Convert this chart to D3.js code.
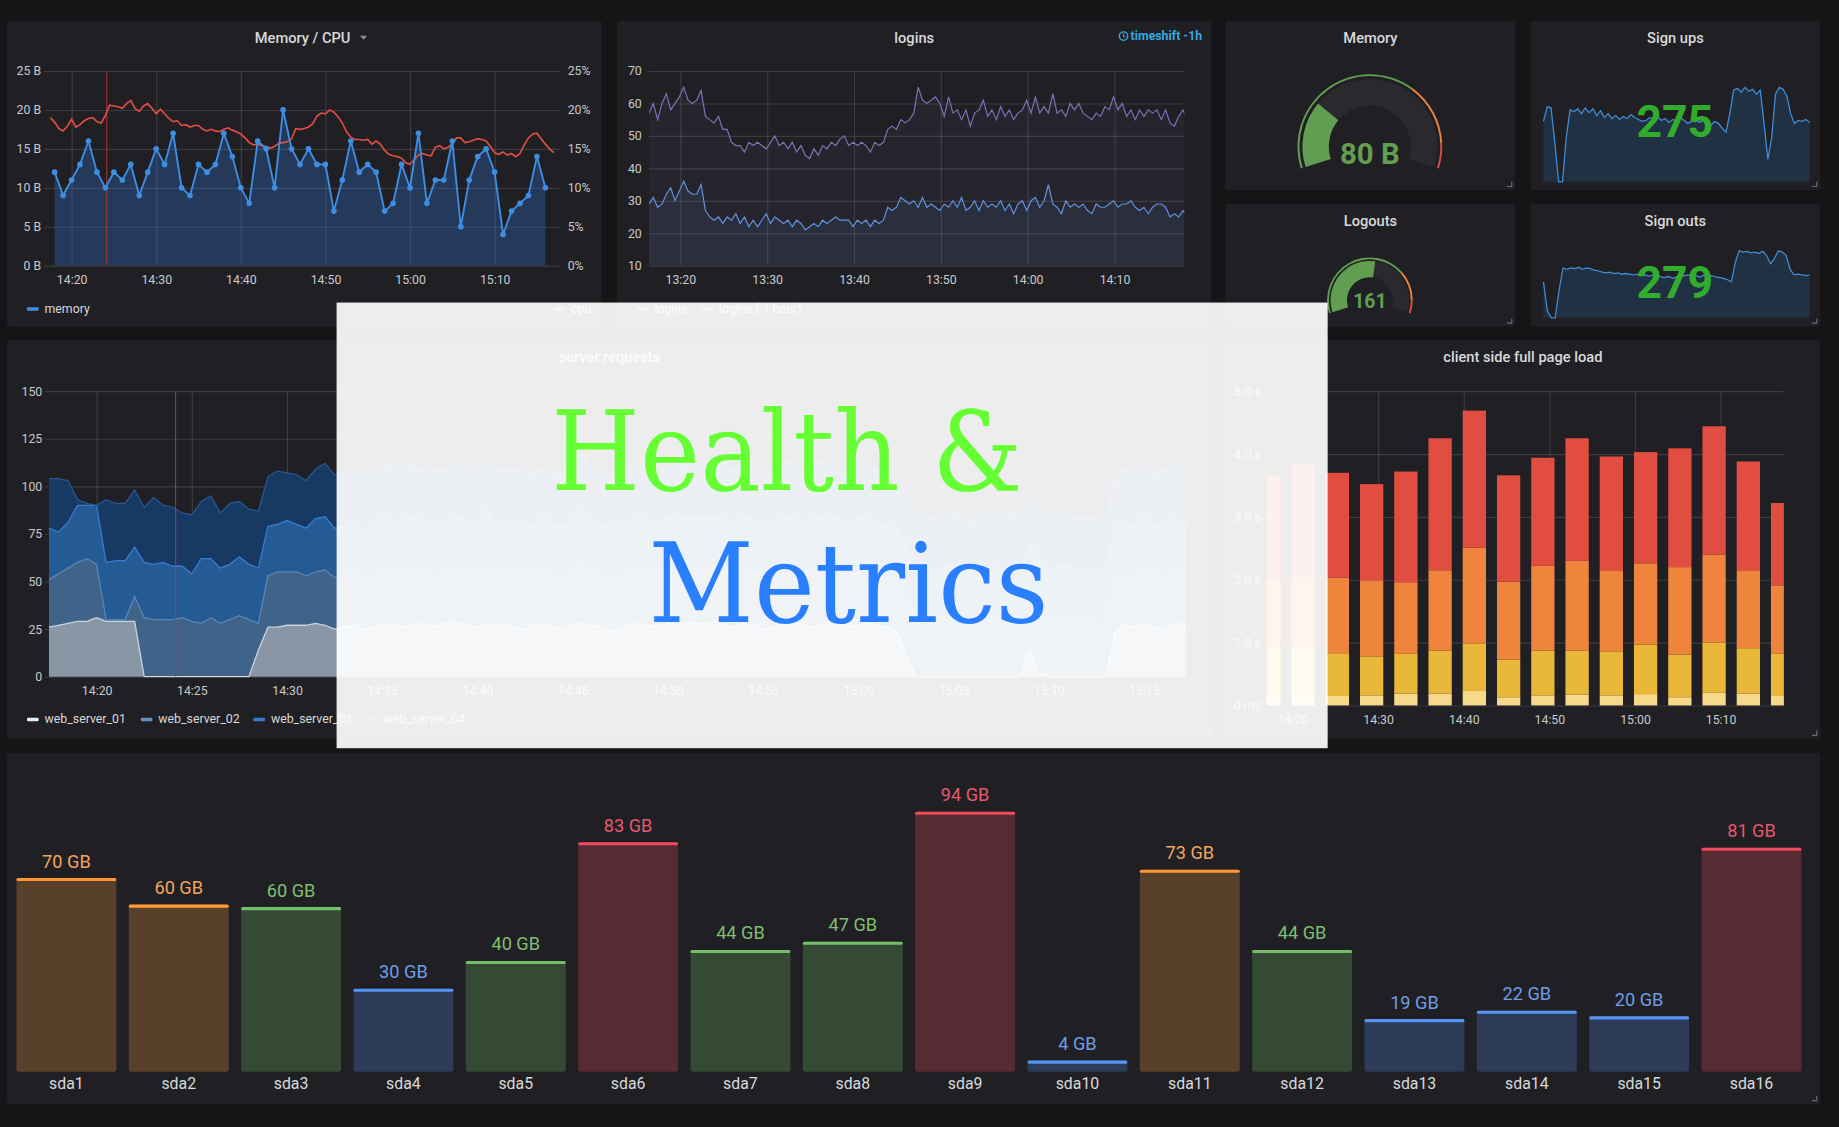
<!DOCTYPE html>
<html>
<head>
<meta charset="utf-8">
<title>Health &amp; Metrics</title>
<script src="https://cdn.jsdelivr.net/npm/d3@7/dist/d3.min.js"></script>
<style>
html,body{margin:0;padding:0;background:#151517;overflow:hidden;}
svg{display:block;}
</style>
</head>
<body>
<svg id="chart" width="1839" height="1127" viewBox="0 0 1568 961" preserveAspectRatio="none"></svg>
<script>
// ================= DATA =================
// Memory / CPU panel
const memoryStart = "14:18:00";
const memoryStepMin = 1;
const memoryValues = [12,9,11,13,16,12,10,12,11,13,
  9,12,15,13,17,10,9,13,12,13,
  17,14,10,8,16,15,10,20,15,13,
  15,13,13,7,11,16,12,13,12,7,
  8,13,10,17,8,11,11,16,5,11,
  14,15,12,4,7,8,9,14,10];
const cpuStart = "14:17:30";
const cpuStepMin = 0.5;
const cpuValues = [19,18.4,17.6,17.3,17.9,18.8,17.8,18.1,18.6,18.9,
  19,18.5,18.3,19.3,20.6,20.5,20.4,20.2,20.8,21.2,
  20.2,19.8,20.5,20.8,20.2,19.5,20.1,19.5,18.9,18.5,
  18.6,18,18.1,17.8,18,18,17.5,17.3,17.5,17.3,
  17.2,17.5,17.7,17.4,17.2,16.9,16.4,15.8,15.5,15.6,
  15.4,15.3,15.1,15.3,15.7,15.8,15.9,16.3,17.6,17.5,
  17.6,17.8,18.2,19.2,19.6,19.5,20,19.7,19.1,18.3,
  17.2,16.5,16.2,16.2,16.1,16.2,15.6,16,15.6,14.8,
  14.3,14.1,14,13.8,13.2,13,13.6,14.2,14.4,14.2,
  14.1,15.2,15.4,15,15.2,15.6,16.4,16.4,15.8,15.9,
  16.1,16.3,16.2,16,15.3,14.5,14.3,14.6,14.2,14.4,
  14,14.4,15.5,16.4,16.9,17,16.3,15.6,15,14.5];
const memoryTicksY = [0,5,10,15,20,25];
const annotationTime = "14:24:09";

// logins panel
const loginsStart = "13:16:24";
const loginsStepMin = 0.5;
const loginsHourAgoValues = [57,60,55,60,63,58,60,62,65,61,
  60,61,64,56,55,54,56,52,52,48,
  47,47,45,48,47,48,47,46,48,50,
  47,48,46,48,45,47,44,43,46,44,
  47,46,48,47,49,50,47,48,47,48,
  47,45,48,47,48,52,53,52,55,54,
  55,57,65,61,60,61,62,60,56,62,
  57,58,55,58,53,57,58,61,56,58,
  55,59,56,58,55,57,58,61,57,62,
  57,59,57,63,57,58,56,60,58,60,
  57,56,55,57,56,59,58,62,58,60,
  56,58,55,58,56,58,57,58,55,58,
  54,53,56,58,55];
const loginsValues = [29,31,28,29,32,34,30,33,36,33,
  32,32,35,27,25,24,25,23,25,24,
  26,23,25,22,24,22,24,26,23,25,
  24,23,24,22,24,23,21,22,23,22,
  24,23,24,25,24,24,24,22,24,23,
  24,22,24,23,24,28,27,28,31,30,
  29,30,28,31,28,29,28,27,29,28,
  30,28,31,27,28,30,27,30,28,29,
  28,30,27,29,26,29,30,27,30,31,
  28,30,35,29,28,26,30,28,29,28,
  29,27,26,29,28,28,29,30,28,29,
  29,30,28,27,28,26,28,29,29,28,
  25,26,25,27,25];
const loginsTicksY = [10,20,30,40,50,60,70];

// gauges
const gaugeTitles = ["Memory","Logouts"];
const gaugeValues = [80,161];
const gaugeUnits = [" B",""];
const gaugeMax = [300,300];
const gaugeThresholds = [[200,272],[218,275]];

// single stats with sparklines
const statTitles = ["Sign ups","Sign outs"];
const statValues = [275,279];
const signUpsSpark = [62,77,76,40,0,0,45,74,72,75,70,76,71,75,68,73,66,70,65,68,64,67,65,69,66,64,62,63,66,64,67,63,65,61,64,62,66,63,60,62,64,61,63,60,58,62,60,55,51,70,94,96,92,97,93,95,90,94,60,23,45,90,97,95,88,70,60,63,62,64,61];
const signOutsSpark = [52,10,0,0,40,72,70,72,71,73,70,72,71,69,68,66,65,66,64,65,63,64,63,62,63,61,62,60,62,61,59,58,60,57,59,60,61,62,60,61,59,62,60,61,59,58,57,55,52,80,97,95,96,94,95,93,96,90,78,86,97,95,90,70,62,63,62,61,62];

// server requests (stacked)
const serverStart = "14:17:30";
const serverStepMin = 0.5;
const serverSeriesNames = ["web_server_01","web_server_02","web_server_03","web_server_04"];
const webServer01 = [26,27,28,29,29,31,29,29,29,29,0,0,0,0,0,0,0,0,0,0,0,0,14,26,26,27,27,27,28,27,25,
  26,27,25,26,27,28,26,27,28,26,
  27,29,28,27,26,28,27,28,26,25,
  27,28,26,25,27,28,27,26,24,25,
  27,28,27,26,28,27,29,28,28,29,
  27,26,28,27,25,26,28,27,28,26,
  27,29,28,27,26,28,27,26,24,12,
  0,0,0,0,0,0,0,0,0,0,
  0,0,14,2,0,0,0,0,0,0,
  0,24,27,26,28,26,25,27,28,26];
const webServer02 = [25,27,29,31,33,28,1,1,1,13,31,30,30,30,31,29,28,31,28,30,32,30,14,27,29,28,28,26,27,29,27,
  27,28,26,27,29,28,27,30,28,27,
  26,28,29,27,28,30,27,26,28,29,
  27,28,26,27,29,31,28,27,26,28,
  29,27,28,30,29,27,28,26,27,29,
  28,27,30,28,27,26,28,29,27,28,
  30,27,28,26,29,28,27,28,26,30,
  31,29,28,30,29,31,28,30,29,30,
  31,29,28,30,29,31,30,29,30,28,
  27,28,26,27,29,28,27,28,26,27];
const webServer03 = [27,22,24,30,28,31,30,31,31,26,29,29,30,28,27,25,34,31,29,29,31,29,29,26,25,27,25,25,28,28,26,
  26,27,25,28,27,26,29,27,26,28,
  27,25,26,28,27,29,26,27,28,26,
  25,27,28,26,27,29,27,26,28,27,
  26,28,27,25,26,28,27,29,28,26,
  27,28,26,27,25,26,28,27,26,28,
  27,29,27,26,28,27,26,25,27,28,
  27,26,28,27,29,28,26,27,28,27,
  26,28,27,29,26,27,28,26,27,28,
  26,27,28,26,27,25,26,28,27,26];
const webServer04 = [26,28,22,3,1,0,33,30,30,30,29,35,30,31,28,31,30,33,29,32,29,29,30,26,28,25,26,25,26,28,28,
  28,27,29,26,28,30,27,28,26,29,
  28,27,30,28,26,27,29,28,27,30,
  28,26,27,29,28,30,27,26,28,29,
  27,28,30,26,27,29,28,27,26,28,
  30,27,29,28,26,27,28,30,27,28,
  29,27,26,28,30,27,29,28,27,26,
  28,29,27,30,28,26,27,29,28,27,
  29,28,26,27,30,28,27,29,26,28,
  27,29,28,26,27,28,30,27,29,28];
const serverTicksY = [0,25,50,75,100,125,150];

// client side full page load (stacked bars, seconds)
const pageLoadTimes = ["14:17:15","14:21:15","14:25:15","14:29:15","14:33:15","14:37:15","14:41:15","14:45:15",
  "14:49:15","14:53:15","14:57:15","15:01:15","15:05:15","15:09:15","15:13:15","15:17:15"];
const pageLoadPale   = [.15,.15,.15,.16,.19,.19,.23,.13,.16,.17,.16,.18,.13,.20,.19,.15];
const pageLoadYellow = [.75,.77,.68,.62,.63,.68,.75,.60,.71,.70,.70,.79,.68,.80,.72,.67];
const pageLoadOrange = [1.10,1.13,1.20,1.21,1.14,1.28,1.53,1.24,1.35,1.43,1.29,1.29,1.39,1.40,1.24,1.09];
const pageLoadRed    = [1.66,1.78,1.67,1.53,1.76,2.10,2.18,1.69,1.72,1.95,1.81,1.77,1.89,2.04,1.73,1.31];
const pageLoadTicksY = [0,1,2,3,4,5];

// disk bar gauge
const diskNames = ["sda1","sda2","sda3","sda4","sda5","sda6","sda7","sda8","sda9","sda10","sda11","sda12","sda13","sda14","sda15","sda16"];
const diskValues = [70,60.4,59.5,30,40,83,44,47,94,4,73,44,19,22,20,81];
const diskThresholds = [35,60,80];

// ================= DRAWING =================
const FONT = "Roboto, 'Noto Sans', sans-serif";
const PANEL = "#202024", TXT = "#d8d9da", AX = "#c8c9cb", GRID = "rgba(255,255,255,0.12)";
const P = d3.timeParse("%H:%M:%S");
const addMin = (d, m) => new Date(d.getTime() + m * 60000);
const fmt = d3.timeFormat("%H:%M");
const svg = d3.select("#chart");
const defs = svg.append("defs");
svg.append("rect").attr("width",1568).attr("height",961).attr("fill","#151517");

function clip(id, x, y, w, h) {
  defs.append("clipPath").attr("id", id).append("rect").attr("x", x).attr("y", y).attr("width", w).attr("height", h);
  return `url(#${id})`;
}
function panel(x, y, w, h, title, tx) {
  svg.append("rect").attr("x", x).attr("y", y).attr("width", w).attr("height", h).attr("rx", 2).attr("fill", PANEL);
  svg.append("path").attr("d", `M${x+w-7},${y+h-3}L${x+w-3},${y+h-3}L${x+w-3},${y+h-7}`)
    .attr("fill","none").attr("stroke","#6b6b70").attr("stroke-width",1);
  if (title) svg.append("text").attr("x", tx ?? x + w / 2).attr("y", y + 18.5).attr("text-anchor", "middle")
    .attr("font-family", FONT).attr("font-size", 12.5).attr("font-weight", 500).attr("fill", TXT).text(title);
}
function styleAxis(s, fs) {
  s.select(".domain").remove();
  s.selectAll(".tick line").attr("stroke", GRID).attr("stroke-width", 1);
  s.selectAll(".tick text").attr("fill", AX).attr("font-size", fs || 10.5).attr("font-family", FONT);
}
function grid(x, y, yTicks, yFmt, xTicks, pad) {
  const [x0, x1] = x.range(), [yb, yt] = y.range();
  svg.append("g").attr("transform", `translate(${x0},0)`)
    .call(d3.axisLeft(y).tickValues(yTicks).tickSize(-(x1 - x0)).tickPadding(pad || 2.5).tickFormat(yFmt))
    .call(s => styleAxis(s));
  svg.append("g").attr("transform", `translate(0,${yb})`)
    .call(d3.axisBottom(x).ticks(xTicks).tickSize(-(yb - yt)).tickPadding(8).tickFormat(fmt))
    .call(s => styleAxis(s));
}
function legend(items, y) {
  items.forEach(it => {
    svg.append("rect").attr("x", it.x).attr("y", y - 4.5).attr("width", 10).attr("height", 3).attr("rx", 1).attr("fill", it.c);
    svg.append("text").attr("x", it.x + 15).attr("y", y).attr("font-family", FONT).attr("font-size", 10.5)
      .attr("fill", TXT).text(it.t);
  });
}

// ---------- Panel 1: Memory / CPU ----------
panel(6, 18, 507, 260.5, null);
svg.append("text").attr("x", 258).attr("y", 36.5).attr("text-anchor", "middle").attr("font-family", FONT)
  .attr("font-size", 12.5).attr("font-weight", 500).attr("fill", TXT).text("Memory / CPU");
svg.append("path").attr("d", "M307,30.5L313,30.5L310,34z").attr("fill", "#8e8e92");
{
  const x = d3.scaleTime().domain([addMin(P("14:16:00"), 0.74), addMin(P("14:17:00"), 60.8)]).range([37.5, 478]);
  const y = d3.scaleLinear().domain([0, 25]).range([226.5, 60.5]);
  grid(x, y, memoryTicksY, d => d + " B", d3.timeMinute.every(10));
  svg.append("g").attr("transform", "translate(478,0)")
    .call(d3.axisRight(y).tickValues(memoryTicksY).tickSize(0).tickPadding(6).tickFormat(d => d + "%"))
    .call(s => styleAxis(s));
  const cp = clip("c1", 37.5, 55, 440.5, 172);
  const mem = memoryValues.map((v, i) => ({ t: addMin(P(memoryStart), i * memoryStepMin), v }));
  const cpu = cpuValues.map((v, i) => ({ t: addMin(P(cpuStart), i * cpuStepMin), v }));
  const g = svg.append("g").attr("clip-path", cp);
  g.append("path").datum(mem).attr("fill", "#3274d9").attr("fill-opacity", 0.3)
    .attr("d", d3.area().x(d => x(d.t)).y0(y(0)).y1(d => y(d.v)));
  g.append("line").attr("x1", x(P(annotationTime))).attr("x2", x(P(annotationTime))).attr("y1", 60.5).attr("y2", 226.5)
    .attr("stroke", "#b23a3a").attr("stroke-opacity", 0.8).attr("stroke-width", 1);
  g.append("path").datum(cpu).attr("fill", "none").attr("stroke", "#e24d42").attr("stroke-width", 1.4)
    .attr("d", d3.line().x(d => x(d.t)).y(d => y(d.v)));
  g.append("path").datum(mem).attr("fill", "none").attr("stroke", "#3d8ee3").attr("stroke-width", 1.6)
    .attr("d", d3.line().x(d => x(d.t)).y(d => y(d.v)));
  g.selectAll("circle").data(mem).join("circle").attr("cx", d => x(d.t)).attr("cy", d => y(d.v)).attr("r", 2.4)
    .attr("fill", "#3d8ee3");
  legend([{ x: 23, c: "#3d8ee3", t: "memory" }, { x: 472, c: "#e24d42", t: "cpu" }], 266.5);
}

// ---------- Panel 2: logins ----------
panel(526, 18, 507, 260.5, "logins");
{
  const tsx = 1025;
  const tt = svg.append("text").attr("x", tsx).attr("y", 34.5).attr("text-anchor", "end").attr("font-family", FONT)
    .attr("font-size", 10.5).attr("font-weight", 700).attr("fill", "#33a8e0").text("timeshift -1h");
  const w = tt.node().getComputedTextLength();
  const cx = tsx - w - 6;
  svg.append("circle").attr("cx", cx).attr("cy", 30.8).attr("r", 3.6).attr("fill", "none").attr("stroke", "#33a8e0").attr("stroke-width", 1.2);
  svg.append("path").attr("d", `M${cx},28.6L${cx},30.9L${cx+1.6},31.8`).attr("fill", "none").attr("stroke", "#33a8e0").attr("stroke-width", 1);

  const x = d3.scaleTime().domain([addMin(P("13:16:00"), 0.38), addMin(P("14:18:00"), 0.05)]).range([553.2, 1009.8]);
  const y = d3.scaleLinear().domain([10, 70]).range([226.5, 60.5]);
  grid(x, y, loginsTicksY, d => d, d3.timeMinute.every(10), 6);
  const cp = clip("c2", 553.2, 55, 456.6, 172);
  const g = svg.append("g").attr("clip-path", cp);
  const a = loginsHourAgoValues.map((v, i) => ({ t: addMin(P(loginsStart), i * loginsStepMin), v }));
  const b = loginsValues.map((v, i) => ({ t: addMin(P(loginsStart), i * loginsStepMin), v }));
  const area = d3.area().x(d => x(d.t)).y0(y(10)).y1(d => y(d.v));
  const line = d3.line().x(d => x(d.t)).y(d => y(d.v));
  g.append("path").datum(a).attr("fill", "#806eb7").attr("fill-opacity", 0.07).attr("d", area);
  g.append("path").datum(b).attr("fill", "#5794f2").attr("fill-opacity", 0.08).attr("d", area);
  g.append("path").datum(a).attr("fill", "none").attr("stroke", "#8170b8").attr("stroke-width", 1).attr("d", line);
  g.append("path").datum(b).attr("fill", "none").attr("stroke", "#6292dc").attr("stroke-width", 1).attr("d", line);
  legend([{ x: 543, c: "#6292dc", t: "logins" }, { x: 598, c: "#8170b8", t: "logins (-1 hour)" }], 266.5);
}

// ---------- Gauges ----------
const gaugeGeom = [
  { px: 1045, py: 18, w: 247, h: 144, cx: 1168, cy: 125, r: 61.7, ro: 57.5, ri: 35, fs: 25, ty: 140 },
  { px: 1045, py: 174, w: 247, h: 104.5, cx: 1168, cy: 256, r: 36.5, ro: 33.5, ri: 19.5, fs: 16.5, ty: 263 }
];
const A = 1.88;
gaugeValues.forEach((v, i) => {
  const G = gaugeGeom[i];
  panel(G.px, G.py, G.w, G.h, gaugeTitles[i]);
  const ang = d3.scaleLinear().domain([0, gaugeMax[i]]).range([-A, A]);
  const g = svg.append("g").attr("transform", `translate(${G.cx},${G.cy})`);
  const th = gaugeThresholds[i];
  const segs = [[0, th[0], "#629e51"], [th[0], th[1], "#ef843c"], [th[1], gaugeMax[i], "#e24d42"]];
  segs.forEach(s => g.append("path").attr("fill", s[2])
    .attr("d", d3.arc().innerRadius(G.r - 1.6).outerRadius(G.r).startAngle(ang(s[0])).endAngle(ang(s[1]))()));
  g.append("path").attr("fill", "#2a2a2e")
    .attr("d", d3.arc().innerRadius(G.ri).outerRadius(G.ro).startAngle(-A).endAngle(A)());
  g.append("path").attr("fill", "#629e51")
    .attr("d", d3.arc().innerRadius(G.ri).outerRadius(G.ro).startAngle(-A).endAngle(ang(v))());
  svg.append("text").attr("x", G.cx).attr("y", G.ty).attr("text-anchor", "middle").attr("font-family", FONT)
    .attr("font-size", G.fs).attr("font-weight", 700).attr("fill", "#629e51").text(v + gaugeUnits[i]);
});

// ---------- Stats ----------
const statGeom = [
  { px: 1305, py: 18, w: 247, h: 144, base: 155, top: 72, ty: 117 },
  { px: 1305, py: 174, w: 247, h: 104.5, base: 271, top: 212, ty: 254 }
];
[signUpsSpark, signOutsSpark].forEach((data, i) => {
  const G = statGeom[i];
  panel(G.px, G.py, G.w, G.h, statTitles[i]);
  const x = d3.scaleLinear().domain([0, data.length - 1]).range([1316, 1543]);
  const y = d3.scaleLinear().domain([0, 100]).range([G.base, G.top]);
  svg.append("path").datum(data).attr("fill", "rgba(31,118,189,0.2)")
    .attr("d", d3.area().x((d, j) => x(j)).y0(G.base).y1(d => y(d)));
  svg.append("path").datum(data).attr("fill", "none").attr("stroke", "#3f8bd6").attr("stroke-width", 1.1)
    .attr("d", d3.line().x((d, j) => x(j)).y(d => y(d)));
  svg.append("text").attr("x", 1428).attr("y", G.ty).attr("text-anchor", "middle").attr("font-family", FONT)
    .attr("font-size", 38).attr("font-weight", 700).attr("fill", "#32ac2d").text(statValues[i]);
});

// ---------- server requests ----------
panel(6, 290, 1027, 340, "server requests");
{
  const x = d3.scaleTime().domain([addMin(P("14:17:00"), 0.3), addMin(P("15:17:00"), 0.2)]).range([38.5, 1011]);
  const y = d3.scaleLinear().domain([0, 150]).range([577, 333.5]);
  grid(x, y, serverTicksY, d => d, d3.timeMinute.every(5));
  const keys = ["ws01", "ws02", "ws03", "ws04"];
  const rows = webServer01.map((v, i) => ({ t: addMin(P(serverStart), i * serverStepMin),
    ws01: webServer01[i], ws02: webServer02[i], ws03: webServer03[i], ws04: webServer04[i] }));
  const st = d3.stack().keys(keys)(rows);
  const fills = ["#8896a6", "#3f6389", "#245b95", "#173a64"];
  const lines = ["#c9d5e1", "#5b86b6", "#3a7bd0", "#275691"];
  const cp = clip("c3", 38.5, 320, 972.5, 258);
  const g = svg.append("g").attr("clip-path", cp);
  st.forEach((s, k) => g.append("path").datum(s).attr("fill", fills[k])
    .attr("d", d3.area().x(d => x(d.data.t)).y0(d => y(d[0])).y1(d => y(d[1]))));
  st.forEach((s, k) => g.append("path").datum(s).attr("fill", "none").attr("stroke", lines[k]).attr("stroke-width", 1.1)
    .attr("d", d3.line().x(d => x(d.data.t)).y(d => y(d[1]))));
  g.append("line").attr("x1", x(P(annotationTime))).attr("x2", x(P(annotationTime))).attr("y1", 333.5).attr("y2", 577)
    .attr("stroke", "#b23a3a").attr("stroke-opacity", 0.8);
  legend([{ x: 23, c: "#e6ebf0", t: serverSeriesNames[0] }, { x: 120, c: "#6b8fba", t: serverSeriesNames[1] },
          { x: 216, c: "#3a78c9", t: serverSeriesNames[2] }, { x: 312, c: "#1d4a85", t: serverSeriesNames[3] }], 616.5);
}

// ---------- client side full page load ----------
panel(1045, 290, 507, 340, "client side full page load");
{
  const x = d3.scaleTime().domain([addMin(P("14:16:00"), 0.99), addMin(P("15:17:00"), 0.4)]).range([1080, 1521]);
  const y = d3.scaleLinear().domain([0, 5]).range([601.5, 333.5]);
  grid(x, y, pageLoadTicksY, d => d === 0 ? "0 ms" : d.toFixed(1) + " s", d3.timeMinute.every(10), 5);
  const rows = pageLoadTimes.map((t, i) => ({ t: P(t), p: pageLoadPale[i], yl: pageLoadYellow[i], o: pageLoadOrange[i], r: pageLoadRed[i] }));
  const st = d3.stack().keys(["p", "yl", "o", "r"])(rows);
  const cols = ["#f8d88a", "#eab839", "#ef843c", "#e24d42"];
  const cp = clip("c4", 1080, 320, 441, 282);
  const g = svg.append("g").attr("clip-path", cp);
  const bw = d => x(addMin(d.data.t, 1.36)) - x(addMin(d.data.t, -1.36));
  st.forEach((s, k) => g.selectAll(null).data(s).join("rect")
    .attr("x", d => x(addMin(d.data.t, -1.36))).attr("width", bw)
    .attr("y", d => y(d[1])).attr("height", d => y(d[0]) - y(d[1])).attr("fill", cols[k]));
}

// ---------- disk bar gauge ----------
panel(6, 642, 1546, 299.5, null);
{
  const x = d3.scaleBand().domain(diskNames).range([14, 1536]).paddingInner(0.11).paddingOuter(0);
  const y = d3.scaleLinear().domain([0, 100]).range([913.8, 678]);
  const pal = v => v < diskThresholds[0] ? { f: "#2c3b58", l: "#5794f2", t: "#6f9de8" }
    : v < diskThresholds[1] ? { f: "#354a35", l: "#73bf69", t: "#7fbf6f" }
    : v < diskThresholds[2] ? { f: "#58402a", l: "#ff9830", t: "#f2a55c" }
    : { f: "#572a34", l: "#f2495c", t: "#e5596b" };
  diskValues.forEach((v, i) => {
    const c = pal(v), bx = x(diskNames[i]), w = x.bandwidth(), top = y(v);
    svg.append("rect").attr("x", bx).attr("y", top).attr("width", w).attr("height", y(0) - top).attr("rx", 2).attr("fill", c.f);
    svg.append("rect").attr("x", bx).attr("y", top).attr("width", w).attr("height", 2.6).attr("rx", 1.3).attr("fill", c.l);
    svg.append("text").attr("x", bx + w / 2).attr("y", top - 9).attr("text-anchor", "middle").attr("font-family", FONT)
      .attr("font-size", 15.5).attr("fill", c.t).text(Math.round(v) + " GB");
    svg.append("text").attr("x", bx + w / 2).attr("y", 929).attr("text-anchor", "middle").attr("font-family", FONT)
      .attr("font-size", 13.5).attr("fill", TXT).text(diskNames[i]);
  });
}

// ---------- overlay ----------
svg.append("rect").attr("x", 287).attr("y", 258).attr("width", 845).attr("height", 380)
  .attr("fill", "#ffffff").attr("fill-opacity", 0.92);
function fitText(str, left, right, baseline, color) {
  const t = svg.append("text").attr("x", 0).attr("y", baseline).attr("font-family", "'DejaVu Serif', serif")
    .attr("font-size", 93.6).attr("fill", color).text(str);
  const bb = t.node().getBBox();
  const sx = (right - left) / bb.width;
  t.attr("transform", `translate(${left},0) scale(${sx},1) translate(${-bb.x},0)`);
}
fitText("Health &", 470, 872, 418, "#66ff33");
fitText("Metrics", 553, 894, 530, "#2a7fff");
</script>
</body>
</html>
